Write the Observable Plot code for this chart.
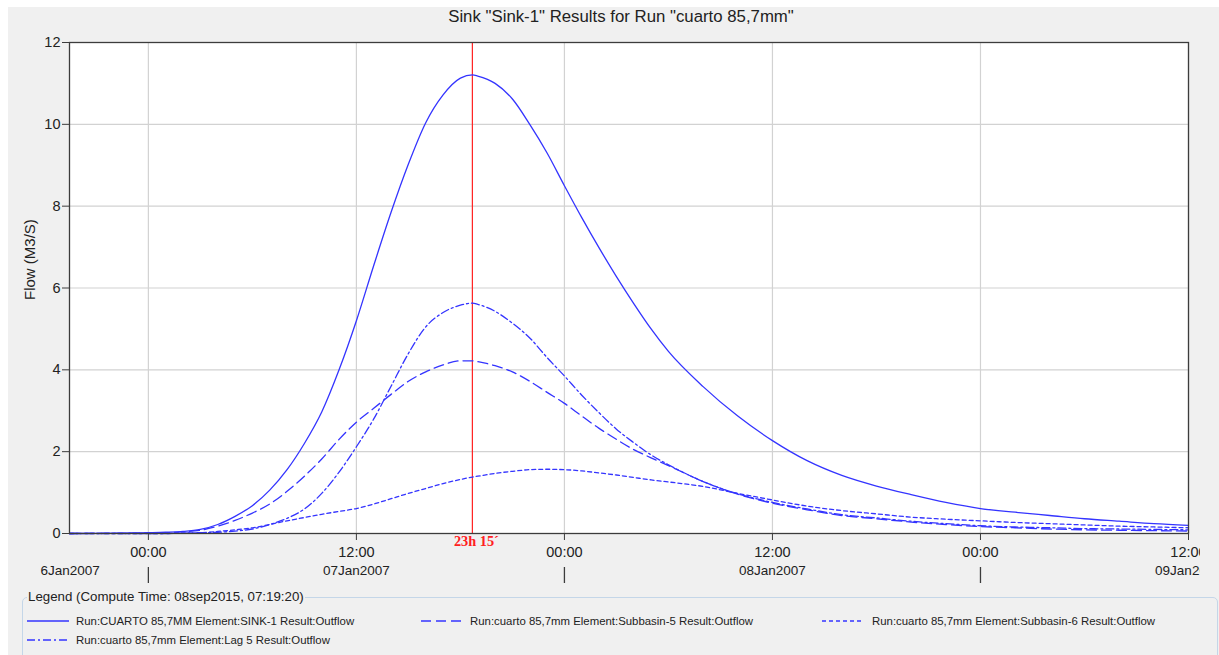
<!DOCTYPE html>
<html><head><meta charset="utf-8">
<script src="https://cdn.jsdelivr.net/npm/d3@7"></script>
<script src="https://cdn.jsdelivr.net/npm/@observablehq/plot@0.6"></script>
<style>
body{margin:0;background:#fff;font-family:"Liberation Sans",Arial,sans-serif;width:1219px;height:655px;overflow:hidden;position:relative;}
#panel{position:absolute;left:8px;top:7px;width:1211px;height:648px;background:#f0f0f0;}
#title{position:absolute;left:621px;top:8px;transform:translateX(-50%);white-space:nowrap;font-size:16.8px;line-height:18px;color:#222;}
#chart{position:absolute;left:0;top:0;}
#legbox{position:absolute;left:22px;top:597px;width:1194px;height:70px;border:1px solid #c4d6e8;border-radius:5px;}
#legtitle{position:absolute;left:27px;top:588px;font-size:13.3px;line-height:17px;color:#222;background:#f0f0f0;padding:0 1px;white-space:nowrap;}
.item{position:absolute;font-size:11.4px;line-height:14px;color:#222;white-space:nowrap;}
.swatch{position:absolute;}
</style></head>
<body>
<div id="panel"></div>
<div id="title">Sink "Sink-1" Results for Run "cuarto 85,7mm"</div>
<div id="chart"></div>
<div id="legbox"></div>
<div id="legtitle">Legend (Compute Time: 08sep2015, 07:19:20)</div>
<div id="legend"></div>
<script>
// hours after 07Jan2007 00:00
const hours     = [-4.55, 0, 1, 2, 3, 4, 5, 6, 7, 8, 9, 10, 11, 12, 13, 14, 15, 16, 17, 18, 18.7, 19, 20, 21, 22, 23, 24, 25, 26, 27, 28, 29, 30, 32, 34, 36, 38, 40, 42, 44, 46, 48, 50, 52, 54, 56, 58, 60];
const sink1     = [0, 0.02, 0.03, 0.05, 0.1, 0.22, 0.42, 0.68, 1.06, 1.56, 2.2, 2.97, 4.0, 5.2, 6.55, 7.85, 9.03, 10.04, 10.72, 11.13, 11.21, 11.18, 11.0, 10.62, 10.0, 9.3, 8.5, 7.72, 6.98, 6.28, 5.62, 5.0, 4.45, 3.59, 2.87, 2.27, 1.78, 1.42, 1.16, 0.95, 0.76, 0.61, 0.52, 0.44, 0.36, 0.3, 0.24, 0.2];
const subbasin5 = [0, 0.01, 0.02, 0.04, 0.08, 0.18, 0.32, 0.5, 0.72, 1.03, 1.4, 1.82, 2.3, 2.72, 3.06, 3.4, 3.72, 3.95, 4.12, 4.22, 4.22, 4.2, 4.1, 3.95, 3.72, 3.45, 3.18, 2.87, 2.57, 2.3, 2.05, 1.85, 1.66, 1.27, 0.96, 0.74, 0.58, 0.44, 0.36, 0.28, 0.22, 0.17, 0.14, 0.11, 0.09, 0.08, 0.07, 0.06];
const lag5      = [0, 0, 0, 0.01, 0.02, 0.03, 0.06, 0.11, 0.22, 0.37, 0.6, 0.98, 1.5, 2.12, 2.8, 3.6, 4.4, 5.05, 5.4, 5.58, 5.63, 5.6, 5.43, 5.14, 4.78, 4.3, 3.85, 3.38, 2.95, 2.55, 2.22, 1.92, 1.68, 1.27, 0.97, 0.76, 0.6, 0.46, 0.38, 0.3, 0.24, 0.19, 0.16, 0.14, 0.12, 0.11, 0.1, 0.09];
const subbasin6 = [0, 0, 0, 0.01, 0.02, 0.05, 0.09, 0.14, 0.22, 0.31, 0.39, 0.47, 0.54, 0.61, 0.72, 0.85, 0.98, 1.1, 1.22, 1.32, 1.38, 1.4, 1.47, 1.52, 1.56, 1.57, 1.56, 1.53, 1.48, 1.43, 1.37, 1.31, 1.26, 1.15, 0.98, 0.82, 0.67, 0.56, 0.48, 0.4, 0.35, 0.31, 0.27, 0.24, 0.21, 0.18, 0.16, 0.14];

const seriesNames = [
  "Run:CUARTO 85,7MM Element:SINK-1 Result:Outflow",
  "Run:cuarto 85,7mm Element:Subbasin-5 Result:Outflow",
  "Run:cuarto 85,7mm Element:Subbasin-6 Result:Outflow",
  "Run:cuarto 85,7mm Element:Lag 5 Result:Outflow"
];
const seriesValues = [sink1, subbasin5, subbasin6, lag5];
const seriesDash = ["none", "10,5", "4,3", "8,3,2,3"];

const yTicks = [0, 2, 4, 6, 8, 10, 12];
const xTickHours = [0, 12, 24, 36, 48, 60];
const dayHours = [0, 24, 48];
const dateLabelHours = [12, 36, 60];
const firstDateLabel = "6Jan2007";
const peakHour = 18.69;
const peakLabel = "23h 15\u00b4";
const yLabel = "Flow (M3/S)";

const base = Date.UTC(2007, 0, 7, 0, 0);
const toDate = h => new Date(base + h * 3600e3);
const blue = "#3434ff";

const rows = [];
seriesValues.forEach((vals, i) => vals.forEach((v, j) => rows.push({series: i, time: toDate(hours[j]), value: v})));

const fmtTime = d3.utcFormat("%H:%M");
const fmtDate = d3.utcFormat("%dJan%Y");

const chart = Plot.plot({
  width: 1200, height: 592,
  marginLeft: 69, marginRight: 12, marginTop: 42, marginBottom: 59,
  style: {background: "transparent", fontFamily: "'Liberation Sans', Arial, sans-serif", fontSize: "14px", color: "#222"},
  x: {type: "utc", domain: [toDate(hours[0]), toDate(hours[hours.length - 1])], axis: null},
  y: {domain: [0, 12], axis: null},
  marks: [
    Plot.frame({fill: "white"}),
    Plot.gridY(yTicks, {stroke: "#d2d2d2", strokeOpacity: 1, strokeWidth: 1.2}),
    Plot.gridX(xTickHours.map(toDate), {stroke: "#d2d2d2", strokeOpacity: 1, strokeWidth: 1.2}),
    Plot.ruleX([toDate(peakHour)], {stroke: "#ff2020", strokeWidth: 1.2}),
    ...seriesValues.map((_, i) => Plot.line(rows.filter(r => r.series === i), {
      x: "time", y: "value", stroke: blue, strokeWidth: 1.3, curve: "monotone-x",
      strokeDasharray: seriesDash[i] === "none" ? null : seriesDash[i]
    })),
    Plot.frame({stroke: "#3c3c3c", strokeWidth: 1.3}),
    Plot.axisY(yTicks, {label: null, tickSize: 7, tickPadding: 2, stroke: "#3c3c3c", fill: "#222", fontSize: 14.5}),
    Plot.axisX(xTickHours.map(toDate), {label: null, tickSize: 7, tickPadding: 6, tickFormat: fmtTime, stroke: "#3c3c3c", fill: "#222", fontSize: 14.5}),
    Plot.ruleX(dayHours.map(toDate), {insetTop: 475, dy: 50, stroke: "#3c3c3c", strokeWidth: 1.3}),
    Plot.text(dateLabelHours.map(toDate), {x: d => d, text: d => fmtDate(d), frameAnchor: "bottom", dy: 41, fill: "#222", fontSize: 13.5}),
    Plot.text([toDate(hours[0])], {x: d => d, text: () => firstDateLabel, frameAnchor: "bottom", dy: 41, dx: -29, textAnchor: "start", fill: "#222", fontSize: 13.5}),
    Plot.text([toDate(peakHour)], {x: d => d, text: () => peakLabel, frameAnchor: "bottom", dy: 12, dx: 4, fill: "#ff2020", fontSize: 14.3, fontWeight: "bold", fontFamily: "'Liberation Serif', 'DejaVu Serif', serif"}),
    Plot.text([yLabel], {text: d => d, frameAnchor: "left", rotate: -90, dx: -39, dy: 12, fill: "#222", fontSize: 15})
  ]
});
document.getElementById("chart").appendChild(chart);

// legend
const legendPos = [
  {sx: 27, tx: 76, y: 621},
  {sx: 421, tx: 470, y: 621},
  {sx: 822, tx: 872, y: 621},
  {sx: 27, tx: 76, y: 640}
];
const leg = document.getElementById("legend");
seriesNames.forEach((name, i) => {
  const p = legendPos[i];
  const ns = "http://www.w3.org/2000/svg";
  const svg = document.createElementNS(ns, "svg");
  svg.setAttribute("class", "swatch");
  svg.setAttribute("width", 42); svg.setAttribute("height", 6);
  svg.style.left = p.sx + "px"; svg.style.top = (p.y - 3) + "px";
  const ln = document.createElementNS(ns, "line");
  ln.setAttribute("x1", 0); ln.setAttribute("x2", 42); ln.setAttribute("y1", 3); ln.setAttribute("y2", 3);
  ln.setAttribute("stroke", blue); ln.setAttribute("stroke-width", 1.3);
  if (seriesDash[i] !== "none") ln.setAttribute("stroke-dasharray", seriesDash[i]);
  svg.appendChild(ln);
  leg.appendChild(svg);
  const t = document.createElement("div");
  t.className = "item"; t.textContent = name;
  t.style.left = p.tx + "px"; t.style.top = (p.y - 7) + "px";
  leg.appendChild(t);
});
</script>
</body></html>
